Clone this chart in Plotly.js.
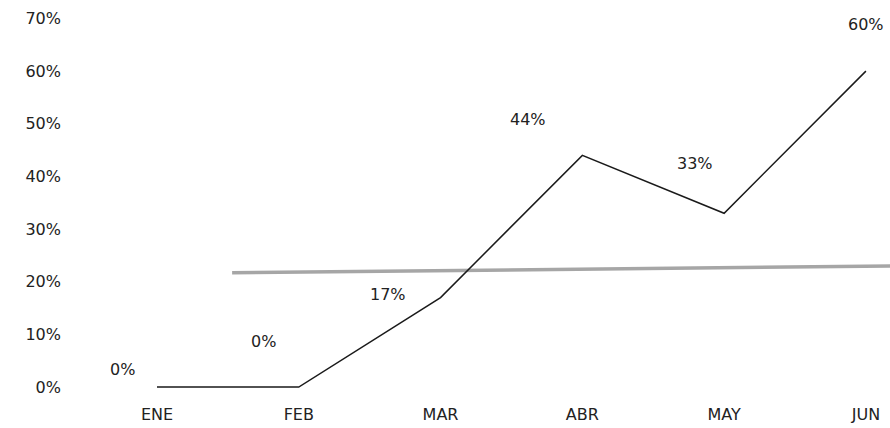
<!DOCTYPE html>
<html>
<head>
<meta charset="utf-8">
<script src="https://cdn.plot.ly/plotly-3.0.1.min.js"></script>
<style>html,body{margin:0;padding:0;background:#fff;}#chart{width:890px;height:428px;}</style>
</head>
<body>
<div id="chart"></div>
<script>
// Data
var months = ["ENE", "FEB", "MAR", "ABR", "MAY", "JUN"];
var values = [0.00, 0.00, 0.17, 0.44, 0.33, 0.60];
var valueLabels = ["0%", "0%", "17%", "44%", "33%", "60%"];
// grey reference line: start/end position on month index scale and value
var refX = [0.53, 5.17];
var refY = [0.217, 0.230];
var yTicks = [0, 0.1, 0.2, 0.3, 0.4, 0.5, 0.6, 0.7];
var yTickText = ["0%", "10%", "20%", "30%", "40%", "50%", "60%", "70%"];

// label offsets (style, px)
var labelStyle = {
  dx: [-34, -35, -53, -54, -29, 0],
  dy: [18, 46, 3, 36, 50, 47]
};

var idx = months.map(function (m, i) { return i; });
var fontFam = "DejaVu Sans";

var traces = [
  {
    x: refX, y: refY, type: "scatter", mode: "lines",
    line: { color: "#a6a6a6", width: 3.5 }, hoverinfo: "skip", showlegend: false
  },
  {
    x: idx, y: values, type: "scatter", mode: "lines",
    line: { color: "#1a1a1a", width: 1.5 }, showlegend: false
  }
];

var annotations = values.map(function (v, i) {
  return {
    x: idx[i], y: v, xref: "x", yref: "y", text: valueLabels[i],
    showarrow: false, xshift: labelStyle.dx[i], yshift: labelStyle.dy[i],
    font: { family: fontFam, size: 16, color: "#222" }
  };
});

var layout = {
  width: 890, height: 428,
  margin: { l: 62, r: 0, t: 0, b: 28 },
  paper_bgcolor: "#fff", plot_bgcolor: "#fff",
  showlegend: false,
  xaxis: {
    range: [-0.67, 5.17],
    tickmode: "array", tickvals: idx, ticktext: months,
    showgrid: false, zeroline: false, showline: false, ticks: "",
    ticklabelstandoff: 3,
    tickfont: { family: fontFam, size: 16, color: "#222" }
  },
  yaxis: {
    range: [-0.0245, 0.735],
    tickmode: "array", tickvals: yTicks, ticktext: yTickText,
    showgrid: false, zeroline: false, showline: false, ticks: "",
    tickfont: { family: fontFam, size: 16, color: "#222" }
  },
  annotations: annotations
};

Plotly.newPlot("chart", traces, layout, { displayModeBar: false, staticPlot: true });
</script>
</body>
</html>
